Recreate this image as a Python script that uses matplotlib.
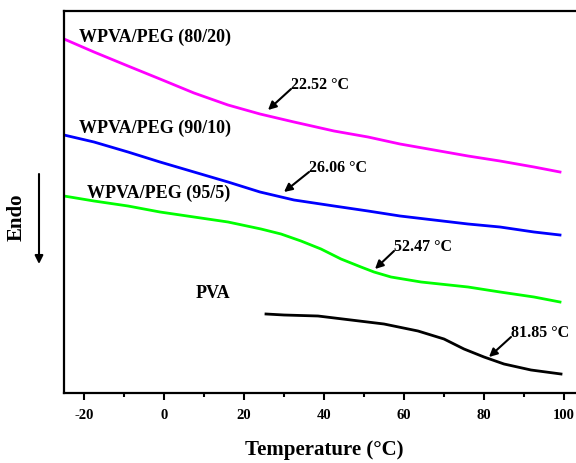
#!/usr/bin/python3
"""DSC curves of PVA and WPVA/PEG blends (glass transition region)."""

import matplotlib
matplotlib.use('Agg')

import matplotlib.pyplot as plt
from matplotlib.patches import FancyArrowPatch
from matplotlib.ticker import MultipleLocator

plt.rcParams['font.family'] = ['Liberation Serif', 'DejaVu Serif']
plt.rcParams['font.weight'] = 'bold'
plt.rcParams['axes.unicode_minus'] = False

# heat flow traces, arbitrary units (offset for display)
t_blend = [-25, -17.5, -9, -1, 7.5, 16, 24, 32.5, 42.5, 51, 59, 67.5, 76, 84, 92.5, 99]
hf_80_20 = [354, 341, 327, 314, 300, 288, 279, 271, 262, 256, 249, 243, 237, 232, 226, 221]
hf_90_10 = [258, 251, 241, 231, 221, 211, 201, 193, 187, 182, 177, 173, 169, 166, 161, 158]

t_95_5 = [-25, -17.5, -9, -1, 7.5, 16, 24.25, 29.25, 34.25, 39.25, 44.25, 49.25,
          52.5, 56.75, 64.25, 76, 84, 92.5, 99]
hf_95_5 = [197, 192, 187, 181, 176, 171, 164, 159, 152, 144, 134, 126,
           121, 116, 111, 106, 101, 96, 91]

t_pva = [25.5, 30, 38.5, 46.75, 55, 63.5, 70, 75, 80, 85, 91.75, 99.25]
hf_pva = [79, 78, 77, 73, 69, 62, 54, 44, 36, 29, 23, 19]

# Tg markers: (label, arrow tip, arrow tail)
tg_labels = ['22.52 \u00b0C', '26.06 \u00b0C', '52.47 \u00b0C', '81.85 \u00b0C']
tg_tips = [(26, 283), (30, 201), (52.75, 124), (81.25, 36)]
tg_tails = [(31.75, 304), (36.25, 221), (57.5, 142), (86.75, 56)]

curve_names = ['WPVA/PEG (80/20)', 'WPVA/PEG (90/10)', 'WPVA/PEG (95/5)', 'PVA']
name_pos = [(-21.25, 357), (-21.25, 266), (-19.25, 201), (8, 101)]


def main():
    fig = plt.figure(figsize=(5.76, 4.64), dpi=100)
    ax = fig.add_axes([64 / 576, 70 / 464, 520 / 576, 382 / 464])

    ax.plot(t_blend, hf_80_20, color='#ff00ff', lw=2)
    ax.plot(t_blend, hf_90_10, color='#0000ff', lw=2)
    ax.plot(t_95_5, hf_95_5, color='#00ff00', lw=2)
    ax.plot(t_pva, hf_pva, color='black', lw=2)

    for name, (x, y) in zip(curve_names, name_pos):
        ax.text(x, y, name, fontsize=13, fontweight='bold', ha='left', va='center')

    for label, tip, tail in zip(tg_labels, tg_tips, tg_tails):
        ax.annotate('', xy=tip, xytext=tail,
                    arrowprops=dict(arrowstyle='-|>', color='black', lw=1.5,
                                    mutation_scale=12, shrinkA=0, shrinkB=0))
        ax.text(tail[0], tail[1] + 5, label, fontsize=11.5, fontweight='bold',
                ha='left', va='center')

    ax.set_xlim(-25, 105)
    ax.set_ylim(0, 382)
    ax.xaxis.set_major_locator(MultipleLocator(20))
    ax.xaxis.set_minor_locator(MultipleLocator(10))
    ax.set_yticks([])
    ax.tick_params(axis='x', which='major', direction='out', length=5, width=1.5,
                   labelsize=10.5, pad=6)
    ax.tick_params(axis='x', which='minor', direction='out', length=3, width=1.5)
    for lbl in ax.get_xticklabels():
        lbl.set_fontweight('bold')
    for sp in ax.spines.values():
        sp.set_linewidth(1.6)

    fig.text(324 / 576, 14 / 464, 'Temperature (\u00b0C)', fontsize=15, fontweight='bold',
             ha='center', va='center')
    fig.text(17 / 576, 1 - 217 / 464, 'Endo', fontsize=15, fontweight='bold',
             rotation=90, ha='center', va='center')
    fig.add_artist(FancyArrowPatch(
        (39 / 576, 1 - 175 / 464), (39 / 576, 1 - 265 / 464),
        transform=fig.transFigure, arrowstyle='-|>', color='black', lw=1.5,
        mutation_scale=12, shrinkA=0, shrinkB=0))

    plt.savefig('out.png', dpi=100)


main()
